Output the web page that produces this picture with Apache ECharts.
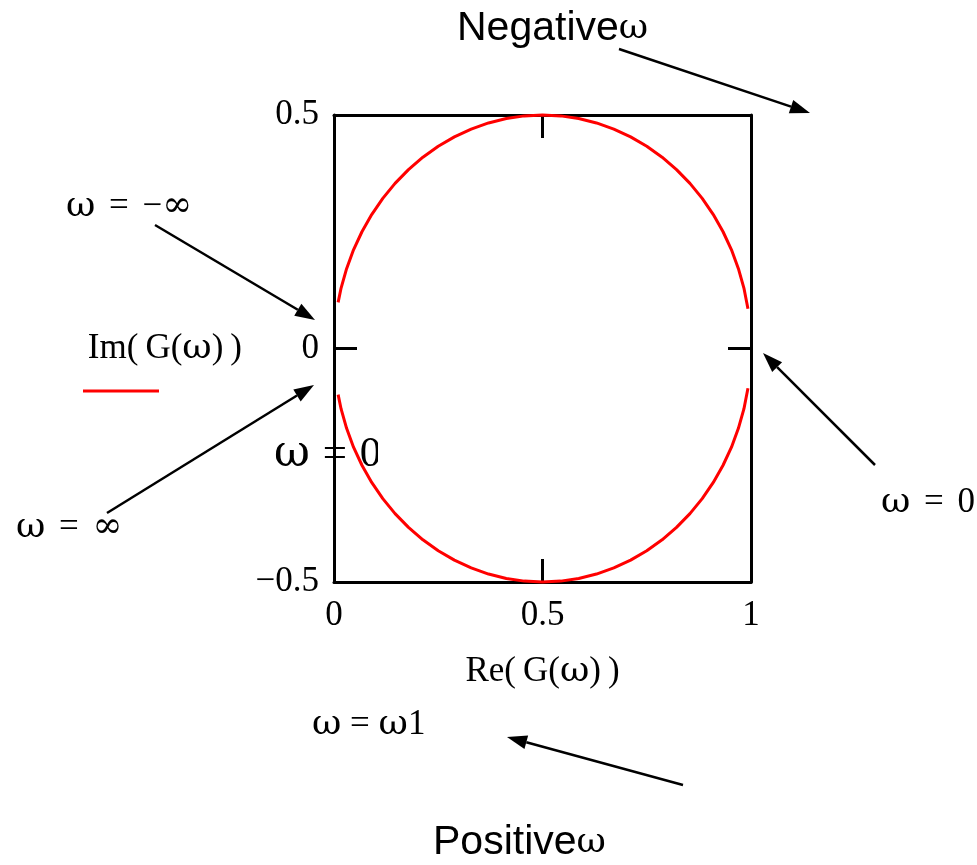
<!DOCTYPE html>
<html>
<head>
<meta charset="utf-8">
<script src="https://cdn.jsdelivr.net/npm/echarts@6/dist/echarts.min.js"></script>
<style>
  html, body { margin: 0; padding: 0; background: #ffffff; }
  #chart { width: 977px; height: 865px; }
</style>
</head>
<body>
<div id="chart"></div>
<script>
// Nyquist locus of G(ω) = 1 / (1 + jω), traced for -10 ≤ ω ≤ 10.

// Negative-frequency branch (upper half): from ω = -10 near the origin to ω just below 0
const reNeg = [0.0099, 0.0170, 0.0302, 0.0468, 0.0670, 0.0904, 0.1170, 0.1464, 0.1786, 0.2132, 0.2500,
               0.2887, 0.3290, 0.3706, 0.4132, 0.4564, 0.5000, 0.5436, 0.5868, 0.6294, 0.6710, 0.7113,
               0.7500, 0.7868, 0.8214, 0.8536, 0.8830, 0.9096, 0.9330, 0.9532, 0.9698, 0.9830, 0.9927];
const imNeg = [0.0988, 0.1294, 0.1710, 0.2113, 0.2500, 0.2868, 0.3214, 0.3536, 0.3830, 0.4096, 0.4330,
               0.4532, 0.4698, 0.4830, 0.4924, 0.4981, 0.5000, 0.4981, 0.4924, 0.4830, 0.4698, 0.4532,
               0.4330, 0.4096, 0.3830, 0.3536, 0.3214, 0.2868, 0.2500, 0.2113, 0.1710, 0.1294, 0.0851];

// Positive-frequency branch (lower half): from ω just above 0 out to ω = 10
const rePos = [0.9927, 0.9830, 0.9698, 0.9532, 0.9330, 0.9096, 0.8830, 0.8536, 0.8214, 0.7868, 0.7500,
               0.7113, 0.6710, 0.6294, 0.5868, 0.5436, 0.5000, 0.4564, 0.4132, 0.3706, 0.3290, 0.2887,
               0.2500, 0.2132, 0.1786, 0.1464, 0.1170, 0.0904, 0.0670, 0.0468, 0.0302, 0.0170, 0.0099];
const imPos = [-0.0851, -0.1294, -0.1710, -0.2113, -0.2500, -0.2868, -0.3214, -0.3536, -0.3830, -0.4096, -0.4330,
               -0.4532, -0.4698, -0.4830, -0.4924, -0.4981, -0.5000, -0.4981, -0.4924, -0.4830, -0.4698, -0.4532,
               -0.4330, -0.4096, -0.3830, -0.3536, -0.3214, -0.2868, -0.2500, -0.2113, -0.1710, -0.1294, -0.0988];

// Axis ranges and tick spacing
const xRange = [0, 1];
const yRange = [-0.5, 0.5];
const tickStep = 0.5;

const SERIF = '"Liberation Serif", "Times New Roman", serif';
const GREEK = '"DejaVu Serif", serif';
const SANS = '"Liberation Sans", Arial, sans-serif';
const INK = '#000000';
const TRACE = '#ff0000';

function pairs(xs, ys) { return xs.map((x, i) => [x, ys[i]]); }
function fmt(v) { return v < 0 ? '\u2212' + Math.abs(v) : String(v); }

// Rich-text styles: Latin text in a Times-like face, ω and ∞ in a wider serif
function richStyles(size, gap) {
  const g = Math.round(size * 1.03);
  const pad = gap === undefined ? 5 : gap;
  return {
    t: { fontFamily: SERIF, fontSize: size, fill: INK, color: INK },
    w: { fontFamily: GREEK, fontSize: g, fill: INK, color: INK },
    e: { fontFamily: SERIF, fontSize: size, fill: INK, color: INK, padding: [0, pad, 0, pad] },
    s: { fontFamily: SANS, fontSize: 41, fill: INK, color: INK }
  };
}

const frameLine = { show: true, onZero: false, lineStyle: { color: INK, width: 3 } };
const innerTick = { show: true, inside: true, length: 23, lineStyle: { color: INK, width: 3 } };

// Annotation arrows: [fromX, fromY, toX, toY]
const arrows = [
  [619, 49, 810, 113],
  [155, 225, 315, 320],
  [107, 513, 314, 385],
  [875, 465, 763, 353],
  [683, 785, 507, 737]
];

function arrowGraphics(a) {
  const [x1, y1, x2, y2] = a;
  const ang = Math.atan2(y2 - y1, x2 - x1);
  const L = 20, W = 7;
  const bx = x2 - L * Math.cos(ang), by = y2 - L * Math.sin(ang);
  const nx = -Math.sin(ang), ny = Math.cos(ang);
  return [
    { type: 'line', z: 10, shape: { x1, y1, x2: bx, y2: by }, style: { stroke: INK, lineWidth: 2.5 } },
    { type: 'polygon', z: 10, shape: { points: [[x2, y2], [bx + nx * W, by + ny * W], [bx - nx * W, by - ny * W]] },
      style: { fill: INK } }
  ];
}

function richLabel(text, x, y, size, gap, z) {
  return {
    type: 'text', z: z || 10, x, y,
    style: { text, textAlign: 'left', textVerticalAlign: 'middle', rich: richStyles(size, gap) }
  };
}

const graphics = [];
arrows.forEach(a => graphics.push(...arrowGraphics(a)));

graphics.push(
  richLabel('{s|Negative}{w|ω}', 457, 29, 35),
  richLabel('{s|Positive}{w|ω}', 433, 843, 35),
  richLabel('{w|ω}{e| = }{t|\u2212}{w|∞}', 66, 207, 35),
  richLabel('{w|ω}{e| = }{w|∞}', 16, 528, 35),
  richLabel('{w|ω}{e| = }{t|0}', 881, 503, 35),
  richLabel('{w|ω}{e| = }{w|ω}{t|1}', 312, 725, 35, 0),
  // "ω = 0" beside the origin, its last glyph partly masked by a white strip
  richLabel('{w|ω}{e| = }{t|0}', 274, 455, 43, 2, 1),
  { type: 'rect', z: 2, shape: { x: 378, y: 426, width: 20, height: 52 }, style: { fill: '#ffffff' } },
  // Trace key under the ordinate label
  { type: 'line', z: 10, shape: { x1: 83, y1: 391, x2: 159, y2: 391 }, style: { stroke: TRACE, lineWidth: 3 } }
);

const chart = echarts.init(document.getElementById('chart'), null, { renderer: 'canvas' });

chart.setOption({
  backgroundColor: '#ffffff',
  animation: false,
  grid: { left: 334, top: 115, width: 417, height: 467, containLabel: false },
  xAxis: [
    {
      type: 'value', position: 'bottom', min: xRange[0], max: xRange[1], interval: tickStep,
      axisLine: frameLine, axisTick: innerTick, splitLine: { show: false },
      axisLabel: { margin: 16, formatter: fmt, color: INK, fontFamily: SERIF, fontSize: 35 },
      name: '{t|Re(\u2009G(}{w|ω}{t|)\u2009)}', nameLocation: 'middle', nameGap: 72,
      nameTextStyle: { color: INK, fontFamily: SERIF, fontSize: 35, rich: richStyles(35) }
    },
    {
      type: 'value', position: 'top', min: xRange[0], max: xRange[1], interval: tickStep,
      axisLine: frameLine, axisTick: innerTick, splitLine: { show: false },
      axisLabel: { show: false }
    }
  ],
  yAxis: [
    {
      type: 'value', position: 'left', min: yRange[0], max: yRange[1], interval: tickStep,
      axisLine: frameLine, axisTick: innerTick, splitLine: { show: false },
      axisLabel: { margin: 15, formatter: fmt, color: INK, fontFamily: SERIF, fontSize: 35 },
      name: '{t|Im(\u2009G(}{w|ω}{t|)\u2009)}', nameLocation: 'middle', nameRotate: 0, nameGap: 92,
      nameTextStyle: { color: INK, fontFamily: SERIF, fontSize: 35, rich: richStyles(35) }
    },
    {
      type: 'value', position: 'right', min: yRange[0], max: yRange[1], interval: tickStep,
      axisLine: frameLine, axisTick: innerTick, splitLine: { show: false },
      axisLabel: { show: false }
    }
  ],
  series: [
    {
      name: 'Im(G(ω)), ω < 0', type: 'line', xAxisIndex: 0, yAxisIndex: 0,
      data: pairs(reNeg, imNeg), showSymbol: false, clip: false, z: 3,
      lineStyle: { color: TRACE, width: 3 }
    },
    {
      name: 'Im(G(ω)), ω > 0', type: 'line', xAxisIndex: 0, yAxisIndex: 0,
      data: pairs(rePos, imPos), showSymbol: false, clip: false, z: 3,
      lineStyle: { color: TRACE, width: 3 }
    }
  ],
  graphic: graphics
});
</script>
</body>
</html>
